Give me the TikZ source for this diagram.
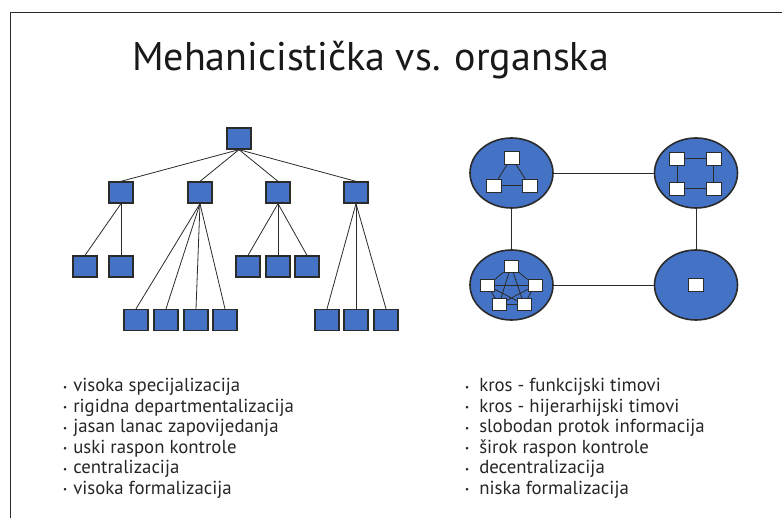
\documentclass[tikz,border=0pt]{standalone}
\usepackage{fontspec}
\setmainfont{PT Sans}
\usetikzlibrary{shapes.geometric}
\definecolor{boxblue}{HTML}{4472C4}
\definecolor{inkline}{HTML}{2B2B2B}
\tikzset{every node/.style={font=\fontsize{18.8}{20.4}\selectfont, text=black!85}}
\tikzset{
  unit/.style={draw=inkline,fill=boxblue,line width=1.3pt,minimum width=24pt,minimum height=21pt,inner sep=0pt},
  team/.style={ellipse,draw=inkline,fill=boxblue,line width=1.6pt,minimum width=83pt,minimum height=70pt,inner sep=0pt},
  member/.style={draw=inkline,fill=white,line width=0.8pt,minimum width=15pt,minimum height=13pt,inner sep=0pt},
  link/.style={draw=inkline,line width=0.8pt},
  item/.style={anchor=base west,inner sep=0pt}
}
\newcommand{\dotmark}{\raisebox{1.6pt}{\small•}}

\begin{document}
\begin{tikzpicture}[x=1pt,y=-1pt]
\useasboundingbox (0,0) rectangle (782,518);
\draw[line width=1.5pt,inkline] (782,12.5) -- (10.5,12.5) -- (10.5,518);

\node[anchor=base,font=\fontsize{40}{44}\selectfont,text=black!90] (title) at (370.5,71) {Mehanicistička vs. organska};

% mechanistic: tree
\node[unit] (root) at (239,138.5) {};
\foreach \name/\x in {a/121,b/200,c/278,d/356}
  \node[unit] (\name) at (\x,192.5) {};
\foreach \name/\x in {a1/85,a2/121,c1/248,c2/278,c3/307}
  \node[unit] (\name) at (\x,266.5) {};
\foreach \name/\x in {b1/136,b2/166,b3/196,b4/225,d1/327,d2/356,d3/386}
  \node[unit] (\name) at (\x,320) {};
\foreach \p/\c in {root/a,root/b,root/c,root/d,a/a1,a/a2,b/b1,b/b2,b/b3,b/b4,
                   c/c1,c/c2,c/c3,d/d1,d/d2,d/d3}
  \draw[link] (\p.south) -- (\c.north);

% organic: teams
\node[team] (tl) at (511.5,173) {};
\node[team] (tr) at (696,173) {};
\node[team] (bl) at (511.5,285) {};
\node[team] (br) at (696,285) {};
\draw[link] (tl) -- (tr);
\draw[link] (bl) -- (br);
\draw[link] (tl) -- (bl);
\draw[link] (tr) -- (br);

\node[member] (t1) at (511.5,157.5) {};
\node[member] (t2) at (494,185.5) {};
\node[member] (t3) at (529.5,185.5) {};
\draw[link] (t1) -- (t2) (t2) -- (t3) (t3) -- (t1);

\node[member] (q1) at (677,158.5) {};
\node[member] (q2) at (713.5,158.5) {};
\node[member] (q3) at (713.5,188.5) {};
\node[member] (q4) at (677,188.5) {};
\draw[link] (q1) -- (q2) (q2) -- (q3) (q3) -- (q4) (q4) -- (q1);

\node[member,minimum width=14pt,minimum height=12pt] (p1) at (511,266) {};
\node[member,minimum width=14pt,minimum height=12pt] (p2) at (535,285.5) {};
\node[member,minimum width=14pt,minimum height=12pt] (p3) at (524,304.5) {};
\node[member,minimum width=14pt,minimum height=12pt] (p4) at (499,304.5) {};
\node[member,minimum width=14pt,minimum height=12pt] (p5) at (487.5,285.5) {};
\foreach \i/\j in {p1/p2,p2/p3,p3/p4,p4/p5,p5/p1,p1/p3,p1/p4,p2/p4,p2/p5,p3/p5}
  \draw[link] (\i) -- (\j);

\node[member] (s1) at (695.5,285) {};

% lists
\foreach \txt [count=\i] in {visoka specijalizacija,rigidna departmentalizacija,
    jasan lanac zapovijedanja,uski raspon kontrole,centralizacija,visoka formalizacija}
  \node[item] (m\i) at (63,{392+20.4*(\i-1)}) {\dotmark\hspace{6pt}\txt};
\foreach \txt [count=\i] in {kros - funkcijski timovi,kros - hijerarhijski timovi,
    slobodan protok informacija,širok raspon kontrole,decentralizacija,niska formalizacija}
  \node[item] (o\i) at (465,{392+20.4*(\i-1)}) {\dotmark\hspace{10pt}\txt};
\end{tikzpicture}
\end{document}
